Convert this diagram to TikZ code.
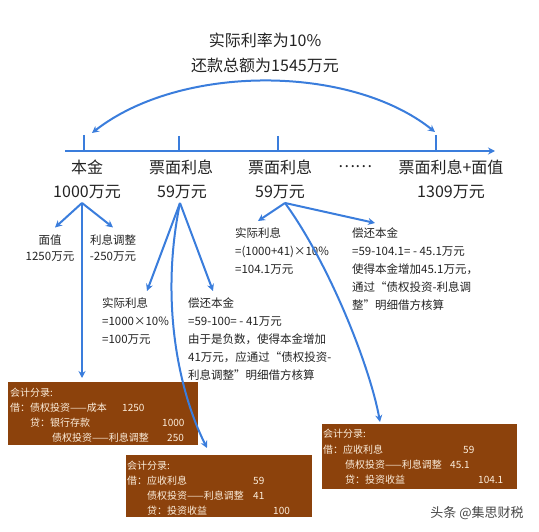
\documentclass[tikz,border=0pt]{standalone}
\usepackage{fontspec}
\setmainfont{Noto Sans CJK SC}
\usetikzlibrary{arrows.meta}
\definecolor{lineblue}{RGB}{58,125,220}
\definecolor{boxbrown}{RGB}{140,66,12}
\definecolor{boxtext}{RGB}{252,238,220}
\definecolor{txt}{RGB}{35,35,35}
\definecolor{wmgray}{RGB}{70,70,70}
\begin{document}
\begin{tikzpicture}[x=1pt,y=-1pt,
  conn/.style={draw=lineblue, line width=2pt, -{Stealth[length=7pt,width=7pt]}},
  dconn/.style={draw=lineblue, line width=2pt, {Stealth[length=7pt,width=7pt]}-{Stealth[length=7pt,width=7pt]}},
  plainline/.style={draw=lineblue, line width=2pt},
  title/.style={font=\fontsize{16}{19}\selectfont, text=txt, inner sep=1pt},
  big/.style={font=\fontsize{16}{19}\selectfont, text=txt, inner sep=1pt},
  small/.style={font=\fontsize{11.5}{14}\selectfont, text=txt, inner sep=1pt},
  block/.style={font=\fontsize{11.5}{18}\selectfont, text=txt, inner sep=0pt, align=left, anchor=north west},
  brownbox/.style={fill=boxbrown, draw=none, inner sep=0pt, anchor=north west},
  boxline/.style={font=\fontsize{10}{12}\selectfont, text=boxtext, inner sep=0pt, anchor=base west},
]
\useasboundingbox (0,0) rectangle (539,532);

% title
\node[title] (title1) at (265,40) {实际利率为10\%};
\node[title] (title2) at (265,65) {还款总额为1545万元};

% timeline
\coordinate (tl0) at (65,151);
\coordinate (tl1) at (495,151);
\draw[conn] (tl0) -- (tl1);
\coordinate (t1) at (84,135);
\coordinate (t2) at (179,136);
\coordinate (t3) at (278,136);
\coordinate (t4) at (436,135);
\draw[plainline] (t1) -- (t1 |- tl0);
\draw[plainline] (t2) -- (t2 |- tl0);
\draw[plainline] (t3) -- (t3 |- tl0);
\draw[plainline] (t4) -- (t4 |- tl0);

% arc
\coordinate (arcL) at (92,133);
\coordinate (arcR) at (435,132);
\draw[dconn] (arcL) .. controls (180,64) and (350,64) .. (arcR);

% level labels
\node[big] (n1a) at (87,167) {本金};
\node[big] (n1b) at (87,192) {1000万元};
\node[big] (n2a) at (181,167) {票面利息};
\node[big] (n2b) at (182,192) {59万元};
\node[big] (n3a) at (280,167) {票面利息};
\node[big] (n3b) at (280,192) {59万元};
\node[big] (dots) at (355,167) {……};
\node[big] (n4a) at (451,167) {票面利息+面值};
\node[big] (n4b) at (451,192) {1309万元};

% small labels under 1000
\node[small] (mz) at (50,240) {面值};
\node[small] (mzv) at (50,257) {1250万元};
\node[small] (lx) at (113,240) {利息调整};
\node[small] (lxv) at (113,257) {-250万元};

% blocks
\node[block] (b1) at (102,298) {实际利息\\=1000×10\%\\=100万元};
\node[block] (b2) at (188,298) {偿还本金\\=59-100= - 41万元\\由于是负数，使得本金增加\\41万元，应通过“债权投资-\\利息调整”明细借方核算};
\node[block] (b3) at (235,228) {实际利息\\=(1000+41)×10\%\\=104.1万元};
\node[block] (b4) at (352,228) {偿还本金\\=59-104.1= - 45.1万元\\使得本金增加45.1万元，\\通过“债权投资-利息调\\整”明细借方核算};

% boxes
\node[brownbox, minimum width=190, minimum height=63] (box1) at (8,382) {};
\node[boxline] (x1a) at (10,396) {会计分录:};
\node[boxline] (x1b) at (10,411) {借：债权投资——成本};
\node[boxline] (x1bv) at (122,411) {1250};
\node[boxline] (x1c) at (30,426) {贷：银行存款};
\node[boxline] (x1cv) at (162,426) {1000};
\node[boxline] (x1d) at (52,441) {债权投资——利息调整};
\node[boxline] (x1dv) at (167,441) {250};

\node[brownbox, minimum width=186, minimum height=62] (box2) at (126,455) {};
\node[boxline] (x2a) at (127,469) {会计分录:};
\node[boxline] (x2b) at (127,484) {借：应收利息};
\node[boxline] (x2bv) at (253,484) {59};
\node[boxline] (x2c) at (147,499) {债权投资——利息调整};
\node[boxline] (x2cv) at (253,499) {41};
\node[boxline] (x2d) at (147,514) {贷：投资收益};
\node[boxline] (x2dv) at (273,514) {100};

\node[brownbox, minimum width=195, minimum height=65] (box3) at (322,424) {};
\node[boxline] (x3a) at (323,437) {会计分录:};
\node[boxline] (x3b) at (323,453) {借：应收利息};
\node[boxline] (x3bv) at (463,453) {59};
\node[boxline] (x3c) at (345,468) {债权投资——利息调整};
\node[boxline] (x3cv) at (450,468) {45.1};
\node[boxline] (x3d) at (345,483) {贷：投资收益};
\node[boxline] (x3dv) at (478,483) {104.1};

% watermark
\node[font=\fontsize{13}{15}\selectfont, text=wmgray, inner sep=0pt] (wm) at (477,513) {头条 @集思财税};

% connectors from 1000
\coordinate (s1) at ([xshift=-5pt,yshift=-3pt]n1b.south);
\draw[conn] (s1) -- ([xshift=5pt,yshift=6pt]mz.north);
\draw[conn] (s1) -- ([yshift=6pt]lx.north);
\draw[conn, shorten >=4pt] (s1) -- (s1 |- box1.north);

% connectors from first 59
\coordinate (s2) at ([xshift=-2pt,yshift=-3pt]n2b.south);
\draw[conn] (s2) -- ([xshift=45pt,yshift=7pt]b1.north west);
\draw[conn] (s2) -- ([xshift=25pt,yshift=7pt]b2.north west);
\draw[conn] (s2) .. controls (160,300) and (178,390) .. ([xshift=81pt,yshift=7pt]box2.north west);

% connectors from second 59
\coordinate (s3) at ([xshift=5pt,yshift=-3pt]n3b.south);
\draw[conn] (s3) -- ([xshift=23pt,yshift=7pt]b3.north west);
\draw[conn] (s3) -- ([xshift=23pt,yshift=5pt]b4.north west);
\draw[conn] (s3) .. controls (330,265) and (370,367) .. ([xshift=58pt,yshift=2pt]box3.north west);
\end{tikzpicture}
\end{document}
